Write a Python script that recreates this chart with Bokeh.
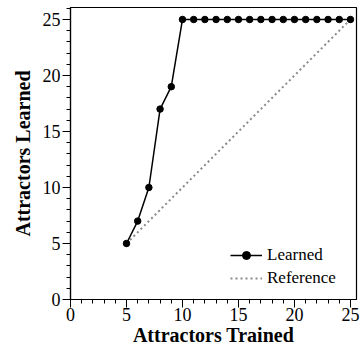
from bokeh.plotting import figure
from bokeh.models import Range1d, Legend, LegendItem, SingleIntervalTicker
from bokeh.embed import file_html
from bokeh.resources import INLINE

trained = [5, 6, 7, 8, 9, 10, 11, 12, 13, 14, 15, 16, 17, 18, 19, 20, 21, 22, 23, 24, 25]
learned = [5, 7, 10, 17, 19, 25, 25, 25, 25, 25, 25, 25, 25, 25, 25, 25, 25, 25, 25, 25, 25]
ref_x = [5, 25]
ref_y = [5, 25]

FONT = "Liberation Serif"

p = figure(width=360, height=352, output_backend="svg", toolbar_location=None,
           x_range=Range1d(0, 25.54), y_range=Range1d(0, 26.07),
           min_border_left=70, min_border_right=4, min_border_top=7, min_border_bottom=53)
p.background_fill_color = "white"
p.border_fill_color = "white"
p.outline_line_color = "black"
p.outline_line_width = 1.2
p.grid.visible = False

r_ref = p.line(ref_x, ref_y, line_color="#8a8a8a", line_width=2, line_dash="2 3")
r_line = p.line(trained, learned, line_color="black", line_width=1.5)
r_pts = p.scatter(trained, learned, size=6.5, color="black")

for ax in (p.xaxis[0], p.yaxis[0]):
    ax.ticker = SingleIntervalTicker(interval=5, num_minor_ticks=5)
    ax.major_label_text_font = "serif"
    ax.major_label_text_font_size = "18px"
    ax.major_label_text_color = "black"
    ax.axis_label_text_font = FONT
    ax.axis_label_text_font_size = "20px"
    ax.axis_label_text_font_style = "bold"
    ax.axis_label_text_color = "black"
    ax.axis_line_color = "black"
    ax.axis_line_width = 1.2
    ax.major_tick_line_color = "black"
    ax.minor_tick_line_color = "black"
    ax.major_tick_out = 8
    ax.major_tick_in = 0
    ax.minor_tick_out = 4
    ax.minor_tick_in = 0

p.xaxis.axis_label = "Attractors Trained"
p.yaxis.axis_label = "Attractors Learned"
p.xaxis.major_label_standoff = 0
p.yaxis.major_label_standoff = 2
p.xaxis.axis_label_standoff = 0
p.yaxis.axis_label_standoff = 6

legend = Legend(items=[LegendItem(label="Learned", renderers=[r_line, r_pts]),
                       LegendItem(label="Reference", renderers=[r_ref])],
                location=(160, 11))
legend.label_text_font = "serif"
legend.label_text_font_size = "17px"
legend.label_text_color = "black"
legend.border_line_color = None
legend.background_fill_alpha = 0
legend.glyph_width = 32
legend.label_standoff = 5
legend.padding = 6
legend.spacing = 3
p.add_layout(legend, "center")

open("out.html", "w").write(file_html(p, INLINE))
